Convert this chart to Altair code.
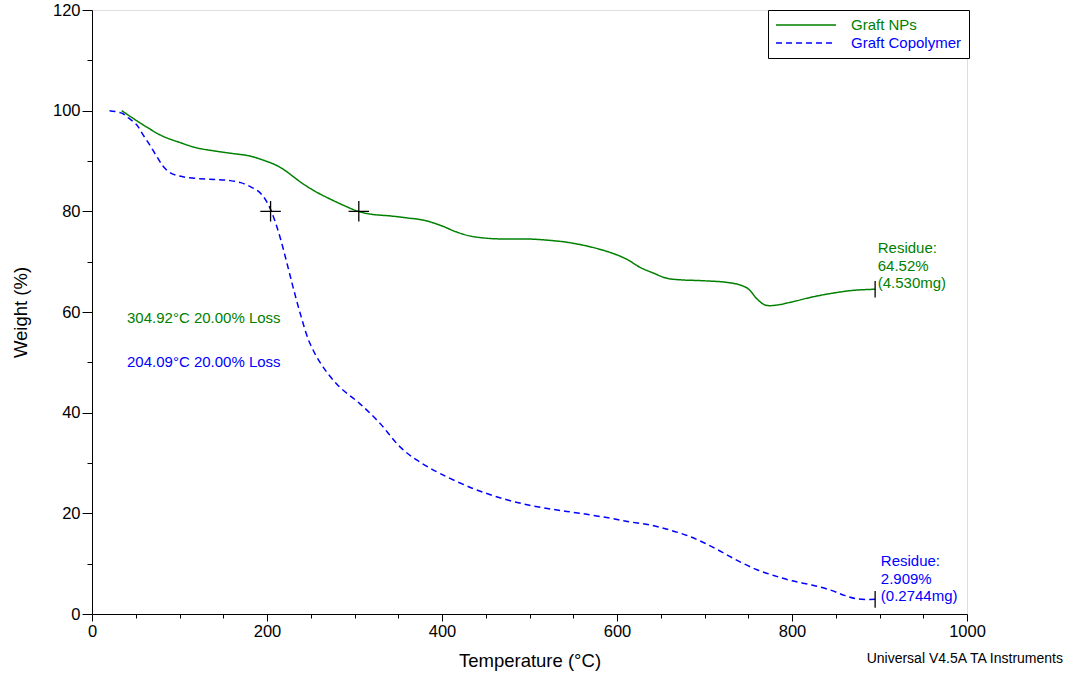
import altair as alt
import pandas as pd

# ---- data ----
series_names = ["Graft NPs", "Graft Copolymer"]
series_colors = ["#008000", "#0000ff"]

green_T = [34, 45, 62, 80, 100, 120, 140, 160, 180, 200, 210, 220, 230, 240, 250, 260, 275, 290, 304,
           320, 340, 360, 380, 400, 415, 432, 455, 480, 500, 525, 545, 573, 596, 612, 626, 642,
           657, 672, 700, 725, 740, 750, 760, 769, 779, 800, 821, 845, 870, 895]
green_W = [100, 98.7, 96.8, 95.0, 93.7, 92.6, 92.0, 91.5, 91.0, 89.9, 89.2, 88.2, 86.9, 85.6, 84.5,
           83.5, 82.2, 81.0, 80.0, 79.4, 79.1, 78.7, 78.2, 77.1, 76.0, 75.1, 74.6, 74.5, 74.5, 74.2,
           73.8, 72.8, 71.6, 70.4, 68.9, 67.7, 66.7, 66.4, 66.2, 65.9, 65.4, 64.6, 62.6, 61.4, 61.3,
           62.0, 62.9, 63.7, 64.3, 64.52]

blue_T = [20, 34, 42, 51, 58, 66, 74, 81.5, 90, 100, 115, 131, 145, 158, 170, 181, 190, 196, 201,
          205, 210, 215, 220, 225, 230, 238, 249, 264, 283, 306, 329, 352, 371, 398, 436, 470, 500,
          530, 558, 590, 615, 640, 660, 680, 700, 720, 740, 760, 780, 800, 824, 845, 860, 875, 895]
blue_W = [100, 99.5, 98.5, 97.2, 95.3, 93.2, 90.9, 88.9, 87.6, 87.0, 86.6, 86.4, 86.3, 86.1, 85.7,
          84.9, 84.0, 82.9, 81.5, 80.0, 77.6, 74.8, 71.6, 68.2, 64.8, 59.7, 53.8, 49.1, 45.1, 41.8,
          37.9, 33.2, 30.6, 27.9, 24.9, 22.9, 21.6, 20.7, 20.0, 19.1, 18.3, 17.6, 16.7, 15.6, 14.1,
          12.3, 10.4, 8.8, 7.6, 6.6, 5.7, 4.7, 3.7, 3.0, 2.909]

loss_T = [304.92, 204.09]
loss_W = [80.0, 80.0]
residue_T = [895, 895]
residue_W = [64.52, 2.909]

note_T = [40, 40, 898, 901.5]
note_W = [58.8, 50.0, 72.7, 10.5]
note_text = ["304.92°C 20.00% Loss", "204.09°C 20.00% Loss",
             "Residue:\n64.52%\n(4.530mg)", "Residue:\n2.909%\n(0.2744mg)"]
note_series = ["Graft NPs", "Graft Copolymer", "Graft NPs", "Graft Copolymer"]

footer_text = "Universal V4.5A TA Instruments"

FONT = "Liberation Sans"

df = pd.concat([
    pd.DataFrame({"T": green_T, "W": green_W, "series": series_names[0]}),
    pd.DataFrame({"T": blue_T, "W": blue_W, "series": series_names[1]}),
])
marks_df = pd.DataFrame({"T": loss_T, "W": loss_W})
res_df = pd.DataFrame({"T": residue_T, "W": residue_W})
notes_df = pd.DataFrame({"T": note_T, "W": note_W, "text": note_text, "series": note_series})
footer_df = pd.DataFrame({"text": [footer_text]})

x_enc = alt.X("T:Q", scale=alt.Scale(domain=[0, 1000], nice=False),
              axis=alt.Axis(values=list(range(0, 1001, 50)), format="d",
                            labelExpr="datum.value % 200 == 0 ? datum.label : ''",
                            tickSize={"condition": {"test": "datum.value % 200 == 0", "value": 7}, "value": 4},
                            grid=False, labelFontSize=16.5, titleFontSize=18.5, labelFont=FONT, titleFont=FONT,
                            titleFontWeight="normal", labelPadding=2, titlePadding=12,
                            domainColor="black", tickColor="black", labelColor="black", titleColor="black",
                            labelOverlap=False, labelFlush=False),
              title="Temperature (°C)")
y_enc = alt.Y("W:Q", scale=alt.Scale(domain=[0, 120], nice=False),
              axis=alt.Axis(values=list(range(0, 121, 5)), format="d",
                            labelExpr="datum.value % 20 == 0 ? datum.label : ''",
                            tickSize={"condition": {"test": "datum.value % 20 == 0", "value": 10}, "value": 5},
                            grid=False, labelFontSize=16.5, titleFontSize=18.5, labelFont=FONT, titleFont=FONT,
                            titleFontWeight="normal", labelPadding=2, titlePadding=22,
                            domainColor="black", tickColor="black", labelColor="black", titleColor="black",
                            labelOverlap=False),
              title="Weight (%)")

legend = alt.Legend(title=None, orient="none", legendX=676, legendY=0,
                    strokeColor="black", fillColor="white", padding=7,
                    symbolType="stroke", symbolSize=3600, symbolStrokeWidth=1.3, clipHeight=16,
                    labelFontSize=15, labelFont=FONT, labelOffset=14, rowPadding=2,
                    labelColor={"expr": "datum.value == 'Graft NPs' ? '#008000' : '#0000ff'"})

lines = alt.Chart(df).mark_line(strokeWidth=1.5, interpolate="catmull-rom").encode(
    x=x_enc, y=y_enc,
    color=alt.Color("series:N", scale=alt.Scale(domain=series_names, range=series_colors), legend=legend),
    strokeDash=alt.StrokeDash("series:N", scale=alt.Scale(domain=series_names, range=[[1, 0], [6, 4]]), legend=legend),
    order=alt.Order("T:Q"),
)

crosses = alt.Chart(marks_df).mark_point(shape="M-1,0H1M0,-1V1", size=420, color="black",
                                         strokeWidth=1.3, filled=False, opacity=1).encode(x="T:Q", y="W:Q")
res_ticks = alt.Chart(res_df).mark_point(shape="M0,-1V1", size=280, color="black",
                                         strokeWidth=1.3, filled=False, opacity=1).encode(x="T:Q", y="W:Q")

def notes_for(name, color):
    return alt.Chart(notes_df).transform_filter(alt.datum.series == name).mark_text(
        align="left", baseline="middle", fontSize=15, font=FONT, color=color,
        lineBreak="\n", lineHeight=17.5).encode(x="T:Q", y="W:Q", text="text:N")

footer = alt.Chart(footer_df).mark_text(align="right", baseline="middle", fontSize=14, font=FONT,
                                         color="black").encode(
    x=alt.value(971), y=alt.value(649), text="text:N")

chart = alt.layer(lines, crosses, res_ticks, notes_for(series_names[0], series_colors[0]),
                  notes_for(series_names[1], series_colors[1]), footer).properties(
    width=875, height=604,
    padding={"left": 92, "top": 10, "right": 109, "bottom": 65},
    autosize="none",
).configure_view(stroke="black", strokeWidth=1).configure(background="white")

chart.save("out.html", embed_options={"renderer": "svg", "actions": False})
